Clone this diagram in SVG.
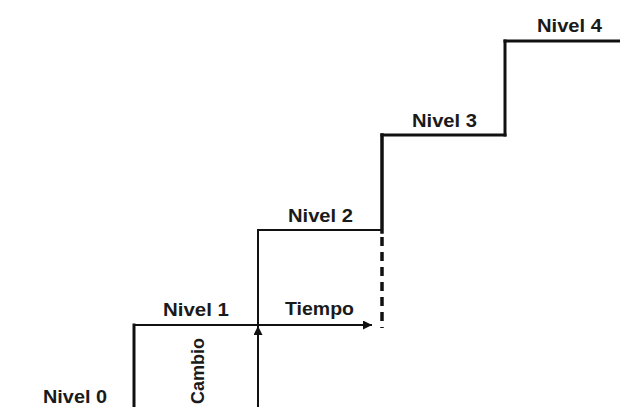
<svg xmlns="http://www.w3.org/2000/svg" width="620" height="407" viewBox="0 0 620 407">
<defs>
<style>
.lbl{font-family:"Liberation Sans",Arial,sans-serif;font-weight:bold;font-size:18px;fill:#1a1a1a}
.ln{stroke:#111;fill:none;stroke-linecap:square}
</style>
<marker id="ah" viewBox="0 0 10 10" refX="10" refY="5" markerWidth="11" markerHeight="9" markerUnits="userSpaceOnUse" orient="auto">
<path d="M0,0 L10,5 L0,10 z" fill="#111"/>
</marker>
</defs>
<rect width="620" height="407" fill="#fff"/>
<g id="connectors">
<line class="ln" x1="134" y1="407" x2="134" y2="325" stroke-width="3"/>
<line class="ln" x1="134" y1="325" x2="258" y2="325" stroke-width="2"/>
<line class="ln" x1="258" y1="325" x2="372" y2="325" stroke-width="2" marker-end="url(#ah)" style="stroke-linecap:butt"/>
<line class="ln" x1="258" y1="407" x2="258" y2="326" stroke-width="2" marker-end="url(#ah)" style="stroke-linecap:butt"/>
<line class="ln" x1="258" y1="325" x2="258" y2="230" stroke-width="2"/>
<line class="ln" x1="258" y1="230" x2="382" y2="230" stroke-width="2"/>
<line class="ln" x1="382" y1="232" x2="382" y2="135" stroke-width="3.5"/>
<line x1="382" y1="237" x2="382" y2="328" stroke="#111" stroke-width="3.5" stroke-dasharray="9 6"/>
<line class="ln" x1="382" y1="135" x2="505" y2="135" stroke-width="3"/>
<line class="ln" x1="505" y1="135" x2="505" y2="41" stroke-width="3"/>
<line class="ln" x1="505" y1="41" x2="622" y2="41" stroke-width="3"/>
</g>
<g id="nivel0"><text class="lbl" x="43" y="403" textLength="64" lengthAdjust="spacingAndGlyphs">Nivel 0</text></g>
<g id="nivel1"><text class="lbl" x="163" y="316" textLength="66" lengthAdjust="spacingAndGlyphs">Nivel 1</text></g>
<g id="nivel2"><text class="lbl" x="288" y="221.5" textLength="65" lengthAdjust="spacingAndGlyphs">Nivel 2</text></g>
<g id="nivel3"><text class="lbl" x="412" y="126.5" textLength="65" lengthAdjust="spacingAndGlyphs">Nivel 3</text></g>
<g id="nivel4"><text class="lbl" x="537" y="31.5" textLength="65" lengthAdjust="spacingAndGlyphs">Nivel 4</text></g>
<g id="tiempo"><text class="lbl" x="285" y="315" textLength="69" lengthAdjust="spacingAndGlyphs">Tiempo</text></g>
<g id="cambio"><text class="lbl" transform="translate(204,404) rotate(-90)" x="0" y="0" textLength="66" lengthAdjust="spacingAndGlyphs">Cambio</text></g>
</svg>
